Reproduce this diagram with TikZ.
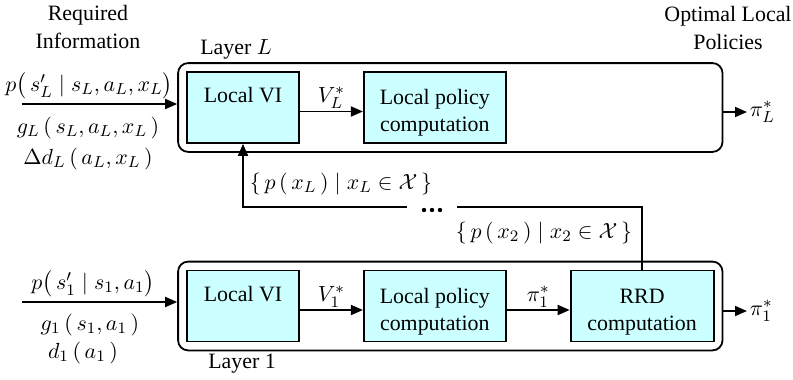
\documentclass[tikz,border=0pt,11pt]{standalone}
\usepackage{amsmath,amssymb}
\usepackage[no-math]{fontspec}
\setmainfont{Liberation Serif}
\usetikzlibrary{positioning,chains,fit,calc,arrows.meta}
\definecolor{vicyan}{RGB}{204,255,255}
\newcommand{\topgap}{\rule{0pt}{13pt}}
\tikzset{
>={Triangle[length=6pt,width=5pt]},
  modchain/.style={
    rectangle,
    draw=black, line width=0.9pt,
    fill=vicyan,
    minimum height=35.5pt,
    align=center,
    inner sep=2pt,
    on chain},
  layerbox/.style={
    rectangle,
    rounded corners=5pt,
    draw=black, line width=0.9pt,
    inner sep=4pt},
  line/.style={draw, line width=0.9pt, ->},
  lbl/.style={inner sep=1pt},
}
\begin{document}
\begin{tikzpicture}
  [x=0.5pt, y=-0.5pt,
  node distance=31.5pt]
  \useasboundingbox (0,0) rectangle (793,380);
  % layer L
  \begin{scope}[start chain=upper going right]
     \node[modchain, minimum width=56pt] (lviU) at (243,107.5) {\topgap Local VI\\ \strut};
     \node[modchain, minimum width=71pt] (lpcU) {\topgap Local policy\\computation};
  \end{scope}
  % layer 1
  \begin{scope}[start chain=lower going right]
     \node[modchain, minimum width=56pt] (lviL) at (243,306) {\topgap Local VI\\ \strut};
     \node[modchain, minimum width=71pt] (lpcL) {\topgap Local policy\\computation};
     \node[modchain, minimum width=71.5pt] (rrd) {\topgap RRD\\computation};
  \end{scope}
  \node[layerbox, fit=(lviU)(lpcU)(rrd.east |- lpcU.center)] (layU) {};
  \node[layerbox, fit=(lviL)(lpcL)(rrd)] (layL) {};
  \node (layUlbl) at (236,49) {Layer $L$};
  \node (layLlbl) at (242,364) {Layer 1};
  % headings
  \node[align=center] (reqinfo) at (88,27) {Required\\Information};
  \node[align=center] (optpol) at (728,28) {Optimal Local\\Policies};
  % inputs
  \coordinate (inU) at (22,104);
  \coordinate (inL) at (22,302);
  \draw[line] (inU) -- (inU -| layU.west);
  \draw[line] (inL) -- (inL -| layL.west);
  \node (pU) at (89,86) {$p\big(\,s'_L \mid s_L, a_L, x_L\big)$};
  \node (gU) at (88,128) {$g_L\,(\,s_L, a_L, x_L\,)$};
  \node (dU) at (88,159) {$\Delta d_L\,(\,a_L, x_L\,)$};
  \node (pL) at (93,284) {$p\big(\,s'_1 \mid s_1, a_1\big)$};
  \node (gL) at (90,325) {$g_1\,(\,s_1, a_1\,)$};
  \node (dL) at (83,353) {$d_1\,(\,a_1\,)$};
  % inside the layers
  \draw[line] ([yshift=-2pt]lviU.east) -- node[above, lbl] (vU) {$V_L^*$} ([yshift=-2pt]lpcU.west);
  \draw[line] ([yshift=-2pt]lviL.east) -- node[above, lbl] (vL) {$V_1^*$} ([yshift=-2pt]lpcL.west);
  \draw[line] ([yshift=-2pt]lpcL.east) -- node[above, lbl] (piL) {$\pi_1^*$} ([yshift=-2pt]rrd.west);
  % outputs
  \coordinate (outU) at (747,112);
  \coordinate (outL) at (747,311);
  \draw[line] (outU -| layU.east) -- (outU) node[right, lbl] (piUout) {$\pi_L^*$};
  \draw[line] (outL -| layL.east) -- (outL) node[right, lbl] (piLout) {$\pi_1^*$};
  % feedback
  \node[minimum width=25pt, inner sep=0pt] (dots) at (432,207) {};
  \foreach \dx in {-4pt,0pt,4pt}
    \fill ([xshift=\dx,yshift=-1.5pt]dots.center) circle (1.1pt);
  \draw[line width=0.9pt] (rrd.north) |- (dots.east);
  \draw[line] (dots.west) -| (lviU.south);
  \node (fbU) at (341,184) {$\{\,p\,(\,x_L\,)\mid x_L\in\mathcal{X}\,\}$};
  \node (fb2) at (544,233) {$\{\,p\,(\,x_2\,)\mid x_2\in\mathcal{X}\,\}$};
\end{tikzpicture}
\end{document}
